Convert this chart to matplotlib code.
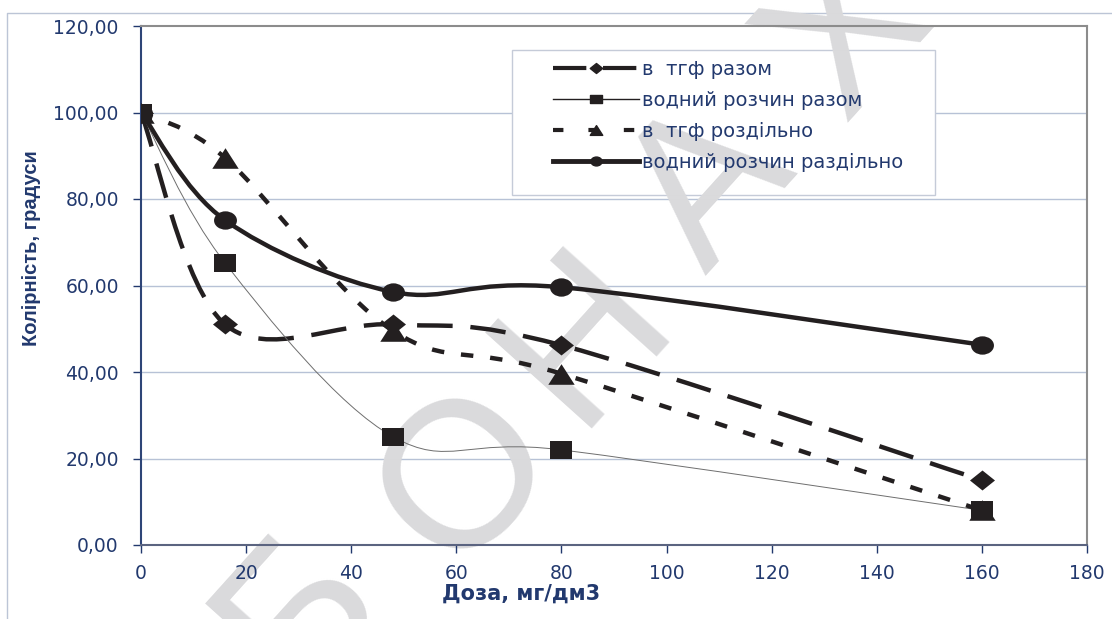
import numpy as np
import matplotlib
matplotlib.use('Agg')
import matplotlib.pyplot as plt
from matplotlib.path import Path
from matplotlib.patches import PathPatch, Rectangle
from matplotlib.lines import Line2D
from matplotlib.ticker import FuncFormatter

plt.rcParams['font.family'] = ['DejaVu Sans']

# доза реагенту, мг/дм3
dose = [0, 16, 48, 80, 160]
# колірність, градуси
tgf_together = [100, 51.0, 51.0, 46.2, 15.0]
water_together = [100, 65.2, 25.0, 22.0, 8.0]
tgf_separate = [100, 89.5, 49.5, 39.6, 8.0]
water_separate = [100, 75.1, 58.5, 59.6, 46.3]

labels = ['в  тгф разом', 'водний розчин разом', 'в  тгф роздільно', 'водний розчин раздільно']

navy = '#22396e'
ink = '#231f20'


def smooth_path(x, y):
    # згладжена лінія як в Excel (кубічні Безьє через точки)
    pts = np.column_stack([x, y]).astype(float)
    n = len(pts)
    verts = [pts[0]]
    codes = [Path.MOVETO]
    for i in range(n - 1):
        p0 = pts[max(i - 1, 0)]
        p1 = pts[i]
        p2 = pts[i + 1]
        p3 = pts[min(i + 2, n - 1)]
        verts += [p1 + (p2 - p0) / 6, p2 - (p3 - p1) / 6, p2]
        codes += [Path.CURVE4] * 3
    return Path(verts, codes)


# маркери трохи ширші ніж високі
m_square = Path([(-0.5, -0.4), (0.5, -0.4), (0.5, 0.4), (-0.5, 0.4), (-0.5, -0.4)],
                [Path.MOVETO, Path.LINETO, Path.LINETO, Path.LINETO, Path.CLOSEPOLY])
m_diamond = Path([(0, 0.4), (0.5, 0), (0, -0.4), (-0.5, 0), (0, 0.4)],
                 [Path.MOVETO, Path.LINETO, Path.LINETO, Path.LINETO, Path.CLOSEPOLY])
m_triangle = Path([(-0.5, -0.39), (0.5, -0.39), (0, 0.39), (-0.5, -0.39)],
                  [Path.MOVETO, Path.LINETO, Path.LINETO, Path.CLOSEPOLY])
circ = Path.unit_circle()
m_circle = Path(circ.vertices * [1, 0.8], circ.codes)

series = [
    (tgf_together, m_diamond, 18, dict(lw=3.2, ls=(0, (8, 4)), color=ink)),
    (water_together, m_square, 16.5, dict(lw=0.7, ls='-', color='#6e6e6e')),
    (tgf_separate, m_triangle, 19, dict(lw=3.2, ls=(0, (2.8, 3.8)), color=ink)),
    (water_separate, m_circle, 16.5, dict(lw=3.2, ls='-', color=ink)),
]

fig = plt.figure(figsize=(11.12, 6.19), dpi=100)
ax = fig.add_axes([141 / 1112, 1 - 545 / 619, 946 / 1112, 519 / 619])

for vals, mk, ms, st in series:
    patch = PathPatch(smooth_path(dose, vals), fill=False, edgecolor=st['color'],
                      lw=st['lw'], linestyle=st['ls'], capstyle='butt', zorder=3)
    ax.add_patch(patch)
    ax.plot(dose, vals, linestyle='none', marker=mk, markersize=ms,
            color=ink, markeredgewidth=0, zorder=4)

ax.set_xlim(0, 180)
ax.set_ylim(0, 120)
ax.set_xticks(range(0, 181, 20))
ax.set_yticks(range(0, 121, 20))
ax.yaxis.set_major_formatter(FuncFormatter(lambda v, _: f'{v:.2f}'.replace('.', ',')))

# сітка окремими лініями, щоб лежала під водяним знаком
for v in ax.get_yticks()[1:-1]:
    ax.axhline(v, color='#b7c2d6', lw=1, zorder=0.8)

ax.tick_params(axis='y', direction='out', length=6, width=1, color=navy, pad=10,
               labelsize=13.5, labelcolor=navy)
ax.tick_params(axis='x', direction='out', length=6, width=1, color=navy, pad=8,
               labelsize=13.5, labelcolor=navy)
ax.spines['left'].set_color('#2e4577')
ax.spines['bottom'].set_color('#5b6480')
for s in ['top', 'right']:
    ax.spines[s].set_color('#8c8c8c')
for s in ax.spines.values():
    s.set_linewidth(1.5)

# рамка легенди
ax.add_patch(Rectangle((512 / 1112, 1 - 195 / 619), 423 / 1112, 145 / 619,
                       transform=fig.transFigure, facecolor='white',
                       edgecolor='#c5cbd8', lw=1, zorder=1.2, clip_on=False))

# водяний знак, літери по діагоналі
wm_letters = ['Б', 'О', 'Н', 'А', 'Х', 'Т']
wm_px = [(300, 612), (468, 478), (585, 336), (712, 188), (850, 35), (985, -115)]
for ch, (px, py) in zip(wm_letters, wm_px):
    ax.text(px / 1112, 1 - py / 619, ch, transform=fig.transFigure, rotation=48,
            rotation_mode='anchor', ha='center', va='center', fontsize=150,
            color='#dadadc', zorder=1.5, clip_on=False,
            family=['Liberation Sans', 'DejaVu Sans'])

handles = [
    Line2D([], [], color=ink, lw=3, ls=(0, (8, 4)), marker=m_diamond, markersize=9),
    Line2D([], [], color=ink, lw=1, ls='-', marker=m_square, markersize=8),
    Line2D([], [], color=ink, lw=3, ls=(0, (2.5, 6)), marker=m_triangle, markersize=9),
    Line2D([], [], color=ink, lw=3.5, ls='-', marker=m_circle, markersize=8),
]
leg = ax.legend(handles, labels, loc='upper left', bbox_to_anchor=(553 / 1112, 1 - 60 / 619),
                bbox_transform=fig.transFigure, frameon=False, fontsize=14,
                handlelength=4.4, handletextpad=0.2, labelspacing=0.62,
                borderpad=0, borderaxespad=0)
for t in leg.get_texts():
    t.set_color(navy)
leg.set_zorder(5)

fig.text(32 / 1112, 1 - 248 / 619, 'Колірність, градуси', rotation=90, ha='center', va='center',
         family=['Liberation Sans Narrow', 'Liberation Sans'], weight='bold', size=14.5, color=navy)
fig.text(521 / 1112, 1 - 594 / 619, 'Доза, мг/дм3', ha='center', va='center',
         weight='bold', size=15, color=navy)

# зовнішня рамка діаграми
fig.add_artist(Line2D([7 / 1112, 7 / 1112, 1], [0, 1 - 13 / 619, 1 - 13 / 619],
                      transform=fig.transFigure, color='#bcc5d6', lw=1, zorder=-1))

fig.savefig('out.png', dpi=100)
